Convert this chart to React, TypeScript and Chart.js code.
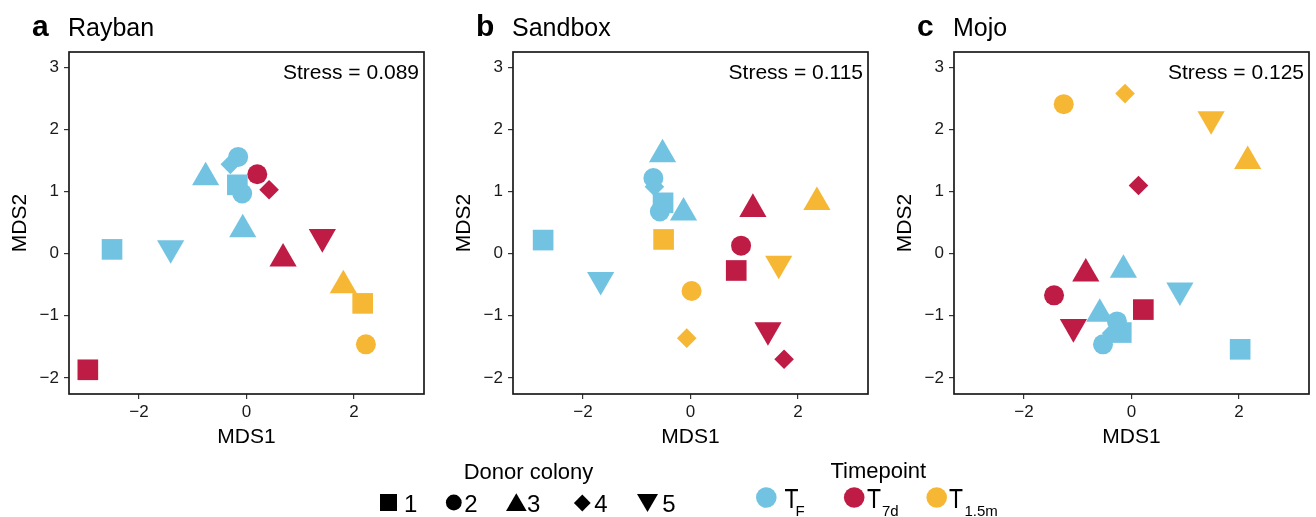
import React, { useEffect, useRef } from 'react';
import { Chart, registerables } from 'chart.js';

Chart.register(...registerables);

const FONT = '"Liberation Sans", Arial, Helvetica, sans-serif';

// ---------- axes ----------
const xTicks = [-2, 0, 2];
const xTickLabels = ['\u22122', '0', '2'];
const yTicks = [-2, -1, 0, 1, 2, 3];
const yTickLabels = ['\u22122', '\u22121', '0', '1', '2', '3'];
const xRange = [-3.3, 3.3];
const yRange = [-2.26, 3.25];

// ---------- panels ----------
const panelLetters = ['a', 'b', 'c'];
const panelNames = ['Rayban', 'Sandbox', 'Mojo'];
const stressLabels = ['Stress = 0.089', 'Stress = 0.115', 'Stress = 0.125'];
const timepointNames = ['TF', 'T7d', 'T1.5m'];
const colonyNames = ['1', '2', '3', '4', '5'];

// ---------- Rayban ----------
const raybanTF_colony = [4, 2, 1, 2, 3, 3, 1, 5];
const raybanTF_x = [-0.3, -0.155, -0.17, -0.08, -0.76, -0.07, -2.5, -1.41];
const raybanTF_y = [1.44, 1.56, 1.11, 0.97, 1.23, 0.39, 0.07, 0.09];
const raybanT7d_colony = [2, 4, 3, 5, 1];
const raybanT7d_x = [0.2, 0.42, 0.68, 1.41, -2.95];
const raybanT7d_y = [1.28, 1.03, -0.08, 0.27, -1.87];
const raybanT15m_colony = [3, 1, 2];
const raybanT15m_x = [1.8, 2.16, 2.22];
const raybanT15m_y = [-0.51, -0.8, -1.46];

// ---------- Sandbox ----------
const sandboxTF_colony = [4, 2, 3, 1, 2, 3, 1, 5];
const sandboxTF_x = [-0.67, -0.69, -0.52, -0.51, -0.57, -0.13, -2.74, -1.67];
const sandboxTF_y = [1.08, 1.22, 1.6, 0.82, 0.68, 0.66, 0.22, -0.42];
const sandboxT7d_colony = [3, 2, 1, 5, 4];
const sandboxT7d_x = [1.16, 0.94, 0.85, 1.44, 1.74];
const sandboxT7d_y = [0.72, 0.13, -0.27, -1.23, -1.7];
const sandboxT15m_colony = [1, 2, 4, 3, 5];
const sandboxT15m_x = [-0.5, 0.02, -0.07, 2.35, 1.64];
const sandboxT15m_y = [0.23, -0.6, -1.36, 0.83, -0.16];

// ---------- Mojo ----------
const mojoTF_colony = [3, 5, 3, 4, 2, 1, 2, 1];
const mojoTF_x = [-0.15, 0.9, -0.59, -0.37, -0.27, -0.19, -0.53, 2.02];
const mojoTF_y = [-0.26, -0.59, -0.97, -1.28, -1.09, -1.27, -1.46, -1.54];
const mojoT7d_colony = [4, 3, 2, 1, 5];
const mojoT7d_x = [0.13, -0.85, -1.44, 0.22, -1.08];
const mojoT7d_y = [1.1, -0.32, -0.67, -0.9, -1.18];
const mojoT15m_colony = [2, 4, 5, 3];
const mojoT15m_x = [-1.26, -0.12, 1.48, 2.16];
const mojoT15m_y = [2.41, 2.58, 2.17, 1.49];

const panelSeries = [
  [
    [raybanTF_colony, raybanTF_x, raybanTF_y],
    [raybanT7d_colony, raybanT7d_x, raybanT7d_y],
    [raybanT15m_colony, raybanT15m_x, raybanT15m_y],
  ],
  [
    [sandboxTF_colony, sandboxTF_x, sandboxTF_y],
    [sandboxT7d_colony, sandboxT7d_x, sandboxT7d_y],
    [sandboxT15m_colony, sandboxT15m_x, sandboxT15m_y],
  ],
  [
    [mojoTF_colony, mojoTF_x, mojoTF_y],
    [mojoT7d_colony, mojoT7d_x, mojoT7d_y],
    [mojoT15m_colony, mojoT15m_x, mojoT15m_y],
  ],
];

// ---------- styles ----------
const timepointColors = ['#72C3E2', '#BE1B45', '#F6B834'];
const colonyStyle: Record<number, string> = { 1: 'rect', 2: 'circle', 3: 'triangle', 4: 'rectRot', 5: 'triangle' };
const colonyRadius: Record<number, number> = { 1: 14.6, 2: 10, 3: 15.7, 4: 9.8, 5: 15.7 };
const colonyRotation: Record<number, number> = { 1: 0, 2: 0, 3: 0, 4: 0, 5: 180 };

const canvasLeft = [0, 444, 885];
const canvasWidth = [440, 440, 431];
const CANVAS_H = 450;
const Y_AXIS_W = 69;
const X_AXIS_H = 56;
const PLOT_W = 355;
const PLOT_TOP = 52;

const decorPlugin = {
  id: 'decor',
  afterDatasetsDraw(chart: any, _args: any, opts: any) {
    const { ctx, chartArea: a } = chart;
    ctx.save();
    ctx.lineWidth = 1.7;
    ctx.strokeStyle = '#1a1a1a';
    ctx.strokeRect(a.left, a.top, a.right - a.left, a.bottom - a.top);
    ctx.fillStyle = '#000';
    ctx.textBaseline = 'alphabetic';
    ctx.textAlign = 'left';
    ctx.font = `bold 30px ${FONT}`;
    ctx.fillText(opts.letter, a.left - 37, 36);
    ctx.font = `25px ${FONT}`;
    ctx.fillText(opts.name, a.left - 1, 36);
    ctx.font = `21px ${FONT}`;
    ctx.textAlign = 'right';
    ctx.fillText(opts.stress, a.right - 5, 79);
    ctx.restore();
  },
};

function makeChart(canvas: HTMLCanvasElement, p: number) {
  const datasets = panelSeries[p].map(([cols, xs, ys], t) => ({
    label: timepointNames[t],
    data: xs.map((x, j) => ({ x, y: ys[j] })),
    pointBackgroundColor: timepointColors[t],
    backgroundColor: timepointColors[t],
    pointBorderWidth: 0,
    borderWidth: 0,
    pointStyle: cols.map((c) => colonyStyle[c]),
    pointRadius: cols.map((c) => colonyRadius[c]),
    pointRotation: cols.map((c) => colonyRotation[c]),
    showLine: false,
  }));
  const rightPad = canvasWidth[p] - Y_AXIS_W - PLOT_W;
  return new Chart(canvas, {
    type: 'scatter',
    data: { datasets } as any,
    options: {
      animation: false,
      responsive: false,
      events: [],
      layout: { autoPadding: false, padding: { top: PLOT_TOP, right: rightPad, left: 0, bottom: 0 } },
      plugins: {
        legend: { display: false },
        tooltip: { enabled: false },
        title: { display: false },
        decor: { letter: panelLetters[p], name: panelNames[p], stress: stressLabels[p] },
      } as any,
      scales: {
        x: {
          type: 'linear',
          min: xRange[0],
          max: xRange[1],
          afterBuildTicks: (s: any) => {
            s.ticks = xTicks.map((v) => ({ value: v }));
          },
          afterFit: (s: any) => {
            s.height = X_AXIS_H;
          },
          grid: { drawOnChartArea: false, drawTicks: true, tickLength: 5, color: '#333', lineWidth: 1.2 },
          border: { display: false },
          ticks: {
            font: { family: FONT, size: 17 },
            color: '#1a1a1a',
            padding: 3,
            maxRotation: 0,
            autoSkip: false,
            callback: (_v: any, i: number) => xTickLabels[i],
          },
          title: {
            display: true,
            text: 'MDS1',
            font: { family: FONT, size: 21, lineHeight: 1.2 },
            color: '#000',
            padding: { top: 0, bottom: 0.4 },
          },
        },
        y: {
          type: 'linear',
          min: yRange[0],
          max: yRange[1],
          afterBuildTicks: (s: any) => {
            s.ticks = yTicks.map((v) => ({ value: v }));
          },
          afterFit: (s: any) => {
            s.width = Y_AXIS_W;
          },
          grid: { drawOnChartArea: false, drawTicks: true, tickLength: 5, color: '#333', lineWidth: 1.2 },
          border: { display: false },
          ticks: {
            font: { family: FONT, size: 17 },
            color: '#1a1a1a',
            padding: 5,
            autoSkip: false,
            callback: (_v: any, i: number) => yTickLabels[i],
          },
          title: {
            display: true,
            text: 'MDS2',
            font: { family: FONT, size: 21, lineHeight: 1.2 },
            color: '#000',
            padding: { top: 7.4, bottom: 0 },
          },
        },
      },
    } as any,
    plugins: [decorPlugin as any],
  });
}

function Legend() {
  const digitX = [404, 464.3, 527, 594.3, 662.3];
  const tpCircleX = [766.3, 854.2, 936.7];
  const tpTX = [784.5, 867, 949];
  const tpSubX = [795.5, 882, 964.5];
  const tpSub = ['F', '7d', '1.5m'];
  return (
    <svg
      width={1316}
      height={517}
      style={{ position: 'absolute', left: 0, top: 0, pointerEvents: 'none' }}
      fontFamily={FONT}
    >
      <text x={528.5} y={478.5} fontSize={22} textAnchor="middle" fill="#000">
        Donor colony
      </text>
      <rect x={380} y={494} width={17} height={17} fill="#000" />
      <circle cx={453.8} cy={502.5} r={7.9} fill="#000" />
      <polygon points="516.3,493.3 506,511 526.7,511" fill="#000" />
      <polygon points="582.3,494.6 590.7,503 582.3,511.4 573.9,503" fill="#000" />
      <polygon points="637,494 658,494 647.5,512" fill="#000" />
      {colonyNames.map((n, i) => (
        <text key={n} x={digitX[i]} y={511.7} fontSize={24} fill="#000">
          {n}
        </text>
      ))}
      <text x={878.3} y={478.3} fontSize={22} textAnchor="middle" fill="#000">
        Timepoint
      </text>
      {timepointNames.map((n, i) => (
        <g key={n}>
          <circle cx={tpCircleX[i]} cy={497.5} r={10.3} fill={timepointColors[i]} />
          <text transform={`translate(${tpTX[i]},508) scale(0.85,1)`} fontSize={27} fill="#000">
            T
          </text>
          <text x={tpSubX[i]} y={516} fontSize={15} fill="#000">
            {tpSub[i]}
          </text>
        </g>
      ))}
    </svg>
  );
}

export default function App() {
  const refs = [useRef<HTMLCanvasElement>(null), useRef<HTMLCanvasElement>(null), useRef<HTMLCanvasElement>(null)];
  useEffect(() => {
    const charts = refs.map((r, p) => makeChart(r.current as HTMLCanvasElement, p));
    return () => charts.forEach((c) => c.destroy());
  }, []);
  return (
    <div
      style={{
        position: 'absolute',
        left: 0,
        top: 0,
        width: 1316,
        height: 517,
        overflow: 'hidden',
        background: '#fff',
      }}
    >
      {refs.map((r, p) => (
        <canvas
          key={p}
          ref={r}
          width={canvasWidth[p]}
          height={CANVAS_H}
          style={{
            position: 'absolute',
            left: canvasLeft[p],
            top: 0,
            width: canvasWidth[p],
            height: CANVAS_H,
          }}
        />
      ))}
      <Legend />
    </div>
  );
}
